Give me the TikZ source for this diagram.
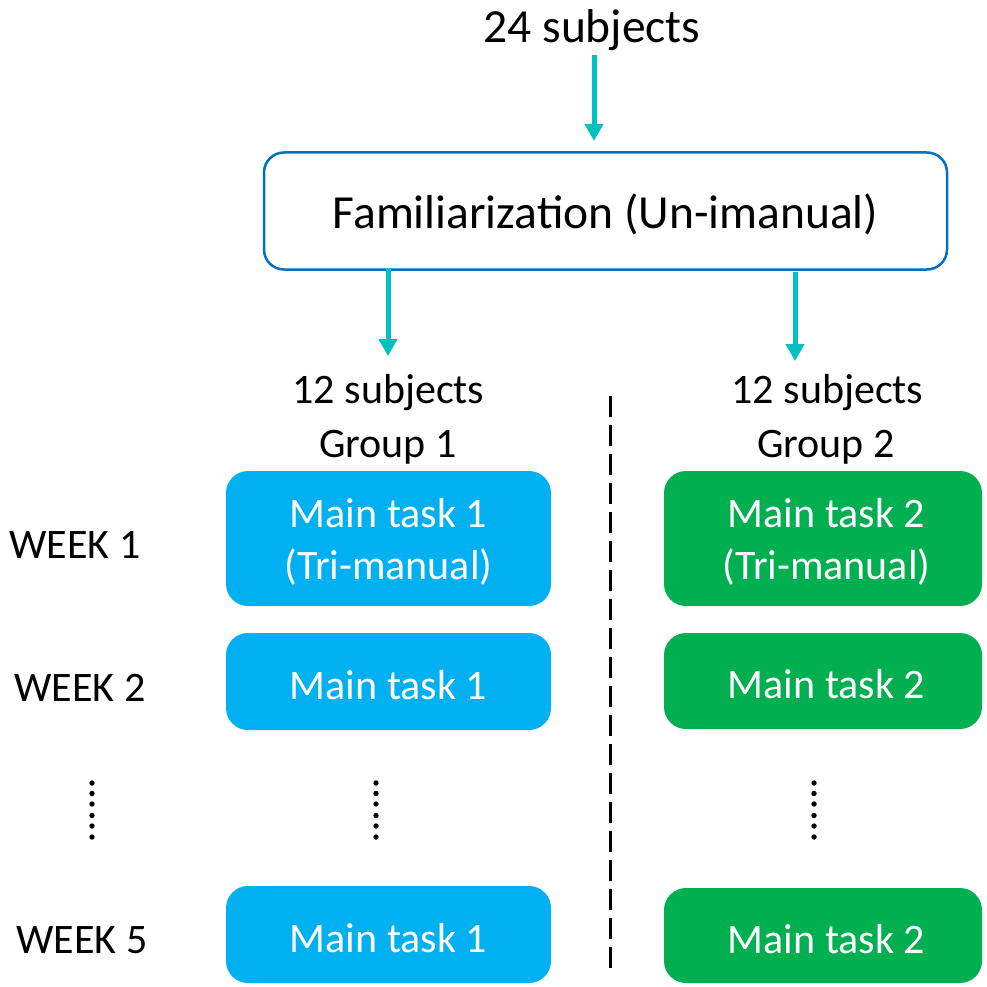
\documentclass[tikz,border=0pt]{standalone}
\usepackage{fontspec}
\setmainfont{Carlito}
\usetikzlibrary{arrows.meta}
\definecolor{flowteal}{RGB}{0,192,192}
\definecolor{famblue}{RGB}{0,112,192}
\definecolor{boxblue}{RGB}{0,176,240}
\definecolor{boxgreen}{RGB}{0,176,80}
\tikzset{
  bigtxt/.style={font=\fontsize{47.5}{56}\selectfont},
  txt/.style={font=\fontsize{42}{52}\selectfont},
  flow/.style={line width=5pt, draw=flowteal, -{Triangle[width=18pt,length=17pt]}},
  famstyle/.style={draw=famblue, line width=2.5pt, rounded corners=20pt, fill=white,
    minimum width=683pt, minimum height=117pt, inner sep=0pt},
  taskbox/.style={rounded corners=22pt, inner sep=0pt},
  boxtext/.style={text=white, txt, align=center, inner sep=0pt, yshift=-3.5pt},
  gboxtext/.style={boxtext, xshift=3.5pt},
  bluebox/.style={taskbox, fill=boxblue, minimum width=325pt},
  greenbox/.style={taskbox, fill=boxgreen, minimum width=318pt},
  dot/.style={fill=black, draw=none},
  divider/.style={line width=2.6pt, dash pattern=on 21pt off 8pt}
}
\begin{document}
\begin{tikzpicture}[x=1pt,y=-1pt]
\useasboundingbox (0,0) rectangle (986,987);
% top
\node[bigtxt, anchor=base, inner sep=0pt] (top) at (592,43) {24 subjects};
\node[famstyle, label={[bigtxt, inner sep=0pt, yshift=-3pt]center:Familiarization (Un-imanual)}] (fam) at (605.5,211) {};
\coordinate (a1s) at (594,55);
\coordinate (a1e) at (594,141);
\coordinate (a2s) at (388,268);
\coordinate (a2e) at (388,356);
\coordinate (a3s) at (795,272);
\coordinate (a3e) at (795,361);
\draw[flow] (a1s) -- (a1e);
\draw[flow] (a2s) -- (a2e);
\draw[flow] (a3s) -- (a3e);
% group headers
\node[txt, anchor=base, inner sep=0pt] (s1) at (388.5,403) {12 subjects};
\node[txt, anchor=base, inner sep=0pt] (g1) at (388,457) {Group 1};
\node[txt, anchor=base, inner sep=0pt] (s2) at (827.5,403) {12 subjects};
\node[txt, anchor=base, inner sep=0pt] (g2) at (826,457) {Group 2};
% divider
\coordinate (d1) at (610.5,396);
\coordinate (d2) at (610.5,970);
\draw[divider] (d1) -- (d2);
% boxes
\node[bluebox, minimum height=135pt, label={[boxtext]center:Main task 1\\(Tri-manual)}] (b1) at (388.5,538.5) {};
\node[bluebox, minimum height=97pt, label={[boxtext]center:Main task 1}] (b2) at (388.5,681.5) {};
\node[bluebox, minimum height=97pt, label={[boxtext]center:Main task 1}] (b5) at (388.5,934.5) {};
\node[greenbox, minimum height=135pt, label={[gboxtext]center:Main task 2\\(Tri-manual)}] (c1) at (823,538.5) {};
\node[greenbox, minimum height=96pt, label={[gboxtext]center:Main task 2}] (c2) at (823,681) {};
\node[greenbox, minimum height=95pt, label={[gboxtext]center:Main task 2}] (c5) at (823,935.5) {};
% week labels
\node[txt, anchor=base, inner sep=0pt] (w1) at (75,558) {WEEK 1};
\node[txt, anchor=base, inner sep=0pt] (w2) at (80,701) {WEEK 2};
\node[txt, anchor=base, inner sep=0pt] (w5) at (82,953) {WEEK 5};
% dots
\foreach \xx in {92,376,814}{
  \foreach \yy in {783,793.5,804,815.5,826,837}{
    \fill[dot] (\xx,\yy) circle (2.7pt);
  }
}
\end{tikzpicture}
\end{document}
